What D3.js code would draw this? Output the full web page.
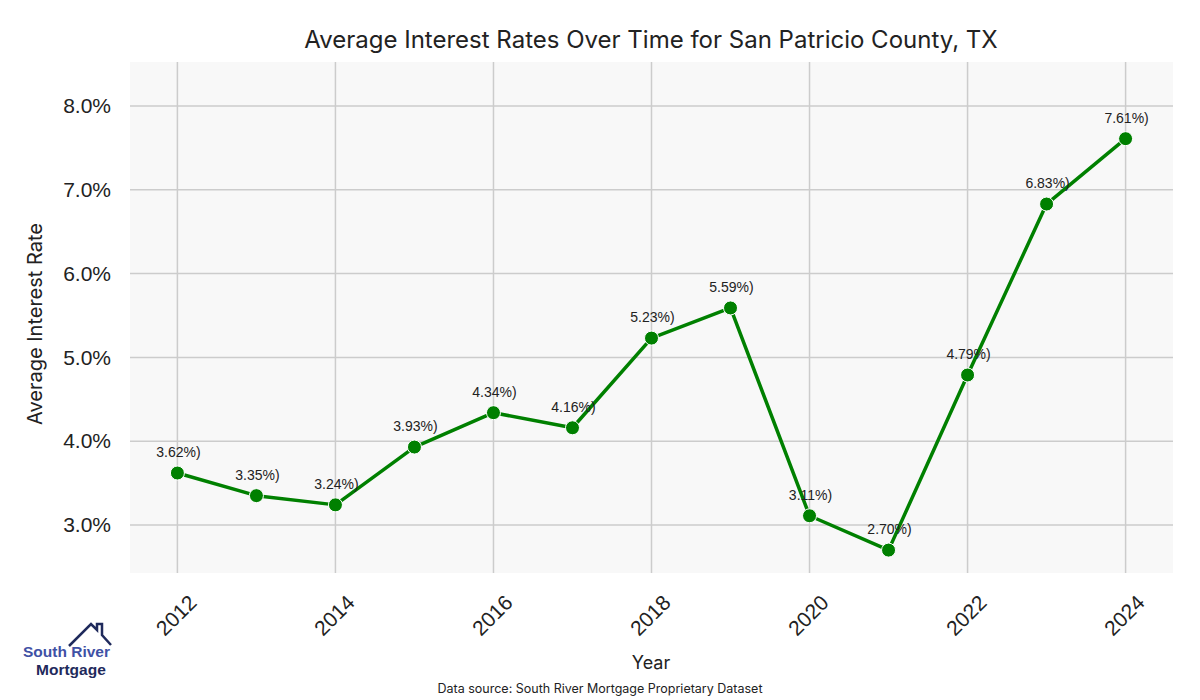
<!DOCTYPE html>
<html>
<head>
<meta charset="utf-8">
<script src="https://cdn.jsdelivr.net/npm/d3@7"></script>
<style>
  body { margin: 0; background: #fff; }
  svg { display: block; }
</style>
</head>
<body>
<script>
const width = 1200;
const height = 700;

const years = [2012, 2013, 2014, 2015, 2016, 2017, 2018, 2019, 2020, 2021, 2022, 2023, 2024];
const rates = [3.62, 3.35, 3.24, 3.93, 4.34, 4.16, 5.23, 5.59, 3.11, 2.70, 4.79, 6.83, 7.61];
const xTicks = [2012, 2014, 2016, 2018, 2020, 2022, 2024];
const yTicks = [3, 4, 5, 6, 7, 8];

const plot = { left: 130, right: 1173, top: 62, bottom: 573 };

const svg = d3.select('body')
  .append('svg')
  .attr('width', width)
  .attr('height', height);

const xScale = d3.scaleLinear()
  .domain([2011.4, 2024.6])
  .range([plot.left, plot.right]);

const yScale = d3.scaleLinear()
  .domain([2.427, 8.525])
  .range([plot.bottom, plot.top]);

// plot background
svg.append('rect')
  .attr('x', plot.left)
  .attr('y', plot.top)
  .attr('width', plot.right - plot.left)
  .attr('height', plot.bottom - plot.top)
  .attr('fill', '#f8f8f8');

// grid
svg.append('g')
  .selectAll('line')
  .data(yTicks)
  .enter()
  .append('line')
  .attr('x1', plot.left)
  .attr('x2', plot.right)
  .attr('y1', d => yScale(d))
  .attr('y2', d => yScale(d))
  .attr('stroke', '#cccccc')
  .attr('stroke-width', 1.5);

svg.append('g')
  .selectAll('line')
  .data(xTicks)
  .enter()
  .append('line')
  .attr('x1', d => xScale(d))
  .attr('x2', d => xScale(d))
  .attr('y1', plot.top)
  .attr('y2', plot.bottom)
  .attr('stroke', '#cccccc')
  .attr('stroke-width', 1.5);

// axes
const yAxis = d3.axisLeft(yScale)
  .tickValues(yTicks)
  .tickSize(0)
  .tickPadding(19)
  .tickFormat(d => d.toFixed(1) + '%');

svg.append('g')
  .attr('transform', `translate(${plot.left}, 0)`)
  .call(yAxis)
  .call(g => g.select('.domain').remove())
  .selectAll('text')
  .attr('font-family', 'Liberation Sans, Arial, sans-serif')
  .attr('font-size', '21px')
  .attr('fill', '#222');

const xAxis = d3.axisBottom(xScale)
  .tickValues(xTicks)
  .tickSize(0)
  .tickFormat(d3.format('d'));

svg.append('g')
  .attr('transform', `translate(0, ${plot.bottom})`)
  .call(xAxis)
  .call(g => g.select('.domain').remove())
  .selectAll('text')
  .attr('font-family', 'Liberation Sans, Arial, sans-serif')
  .attr('font-size', '21px')
  .attr('fill', '#222')
  .attr('text-anchor', 'end')
  .attr('dy', null)
  .attr('y', 0)
  .attr('transform', 'translate(20, 31) rotate(-45)');

// line
const line = d3.line()
  .x((d, i) => xScale(years[i]))
  .y(d => yScale(d));

svg.append('path')
  .datum(rates)
  .attr('d', line)
  .attr('fill', 'none')
  .attr('stroke', '#008000')
  .attr('stroke-width', 3.5)
  .attr('stroke-linejoin', 'round');

svg.append('g')
  .selectAll('circle')
  .data(rates)
  .enter()
  .append('circle')
  .attr('cx', (d, i) => xScale(years[i]))
  .attr('cy', d => yScale(d))
  .attr('r', 7)
  .attr('fill', '#008000')
  .attr('stroke', '#ffffff')
  .attr('stroke-width', 1);

svg.append('g')
  .selectAll('text')
  .data(rates)
  .enter()
  .append('text')
  .text(d => d.toFixed(2) + '%)')
  .attr('x', (d, i) => xScale(years[i]) + 1)
  .attr('y', d => yScale(d) - 16)
  .attr('text-anchor', 'middle')
  .attr('font-family', 'Liberation Sans, Arial, sans-serif')
  .attr('font-size', '14px')
  .attr('fill', '#222');

// titles
svg.append('text')
  .attr('x', 651)
  .attr('y', 48)
  .attr('text-anchor', 'middle')
  .attr('font-family', 'Inter, sans-serif')
  .attr('font-size', '24px')
  .attr('fill', '#222')
  .text('Average Interest Rates Over Time for San Patricio County, TX');

svg.append('text')
  .attr('x', 651)
  .attr('y', 669)
  .attr('text-anchor', 'middle')
  .attr('font-family', 'Inter, sans-serif')
  .attr('font-size', '18px')
  .attr('fill', '#222')
  .text('Year');

svg.append('text')
  .attr('transform', 'translate(42, 324) rotate(-90)')
  .attr('text-anchor', 'middle')
  .attr('font-family', 'Inter, sans-serif')
  .attr('font-size', '20px')
  .attr('fill', '#222')
  .text('Average Interest Rate');

svg.append('text')
  .attr('x', 600)
  .attr('y', 693)
  .attr('text-anchor', 'middle')
  .attr('font-family', 'Inter, sans-serif')
  .attr('font-size', '12.5px')
  .attr('fill', '#222')
  .text('Data source: South River Mortgage Proprietary Dataset');

// logo
const logo = svg.append('g');
logo.append('path')
  .attr('d', 'M69,646 L91,624 L97,630 L97,624 L102,624 L102,635 L111,645')
  .attr('fill', 'none')
  .attr('stroke', '#1f2a5c')
  .attr('stroke-width', 2.5);
logo.append('text')
  .attr('x', 23)
  .attr('y', 657)
  .attr('font-family', 'Liberation Sans, Arial, sans-serif')
  .attr('font-weight', 700)
  .attr('font-size', '15.5px')
  .attr('fill', '#3f51a5')
  .text('South River');
logo.append('text')
  .attr('x', 36)
  .attr('y', 675)
  .attr('font-family', 'Liberation Sans, Arial, sans-serif')
  .attr('font-weight', 700)
  .attr('font-size', '15.5px')
  .attr('fill', '#1f2a5c')
  .text('Mortgage');
</script>
</body>
</html>
